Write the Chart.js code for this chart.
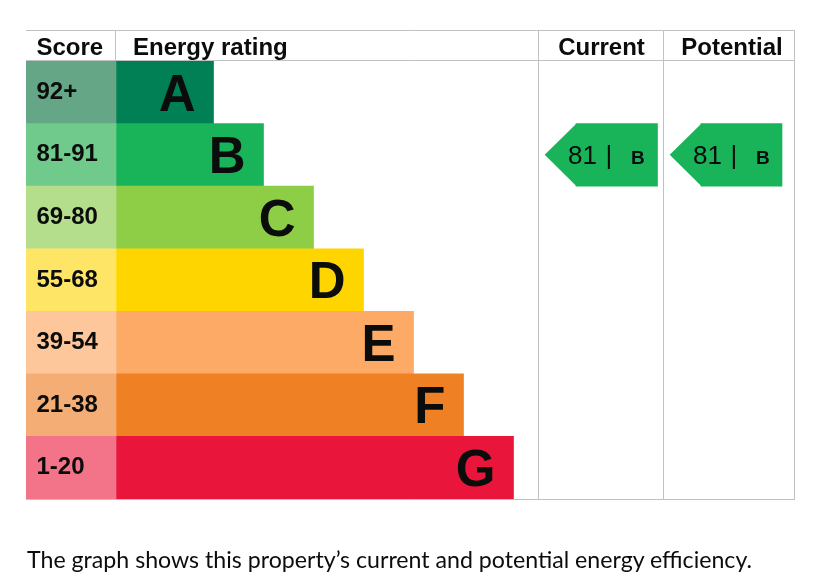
<!DOCTYPE html>
<html><head><meta charset="utf-8">
<script src="https://cdn.jsdelivr.net/npm/chart.js@4.4.1/dist/chart.umd.min.js"></script>
<style>
html,body{margin:0;padding:0;background:#fff;}
#wrap{position:relative;width:823px;height:586px;overflow:hidden;}
canvas{position:absolute;left:0;top:0;}
#note{position:absolute;left:27px;top:548px;margin:0;font-family:Lato,"Noto Sans",sans-serif;font-size:23px;line-height:23px;color:#0b0c0c;white-space:nowrap;transform-origin:0 0;}
</style></head><body>
<div id="wrap"><canvas id="c" width="823" height="586"></canvas>
<p id="note">The graph shows this property’s current and potential energy efficiency.</p></div>
<script>
// ---- data ----
const bands = ['A','B','C','D','E','F','G'];
const scoreRanges = ['92+','81-91','69-80','55-68','39-54','21-38','1-20'];
const bandMinScore = [92,81,69,55,39,21,1];
const bandLength = [1.95,2.95,3.95,4.95,5.95,6.95,7.95];
const currentScore = 81;
const potentialScore = 81;
const headers = ['Score','Energy rating','Current','Potential'];

// ---- styles / layout ----
const bandColours = ['#008054','#19b459','#8dce46','#ffd500','#fcaa65','#ef8023','#e9153b'];
const scoreColours = ['#64a685','#70ca8b','#b5de8c','#ffe566','#fec79b','#f4ad74','#f37389'];
const GRID = '#bfc1c3';
const INK = '#0b0c0c';
// x-scale units: 1 unit = 50px
const X_MIN = -1.8, X_MAX = 13.58;
const CUR_COL = [8.44, 10.94], POT_COL = [10.94, 13.58];
const CUR_ARROW = [9.2, 10.83], POT_ARROW = [11.7, 13.32];

const bandIndex = s => bandMinScore.findIndex(m => s >= m);
const curIdx = bandIndex(currentScore);
const potIdx = bandIndex(potentialScore);

const epcPlugin = {
  id: 'epc',
  afterDatasetsDraw(chart) {
    const ctx = chart.ctx, ca = chart.chartArea;
    const xs = chart.scales.x, ys = chart.scales.y;
    const top = 31;
    ctx.save();
    // grid
    ctx.strokeStyle = GRID; ctx.lineWidth = 1;
    const hl = y => { ctx.beginPath(); ctx.moveTo(ca.left, y); ctx.lineTo(ca.right, y); ctx.stroke(); };
    const vl = (x, y0, y1) => { ctx.beginPath(); ctx.moveTo(x, y0); ctx.lineTo(x, y1); ctx.stroke(); };
    hl(top - 0.5); hl(ca.top - 0.5); hl(ca.bottom + 0.5);
    vl(Math.round(xs.getPixelForValue(0)) - 0.5, top - 1, ca.top);
    vl(Math.round(xs.getPixelForValue(CUR_COL[0])) + 0.5, top - 1, ca.bottom + 1);
    vl(Math.round(xs.getPixelForValue(POT_COL[0])) + 0.5, top - 1, ca.bottom + 1);
    vl(Math.round(xs.getPixelForValue(POT_COL[1])) - 0.5, top - 1, ca.bottom + 1);
    // headers
    ctx.fillStyle = INK;
    ctx.textBaseline = 'alphabetic';
    ctx.font = 'bold 24px "Liberation Sans", Arial, sans-serif';
    const hb = 54.7;
    ctx.textAlign = 'left';
    ctx.fillText(headers[0], ca.left + 10.5, hb);
    ctx.fillText(headers[1], xs.getPixelForValue(0) + 17, hb);
    ctx.textAlign = 'center';
    ctx.fillText(headers[2], (xs.getPixelForValue(CUR_COL[0]) + xs.getPixelForValue(CUR_COL[1])) / 2 + 1, hb);
    ctx.fillText(headers[3], (xs.getPixelForValue(POT_COL[0]) + xs.getPixelForValue(POT_COL[1])) / 2 + 3, hb);
    // score labels and letters
    const bars = chart.getDatasetMeta(1).data;
    bands.forEach((b, i) => {
      const yc = ys.getPixelForValue(i);
      ctx.fillStyle = INK;
      ctx.textAlign = 'left';
      ctx.font = 'bold 24px "Liberation Sans", Arial, sans-serif';
      ctx.fillText(scoreRanges[i], ca.left + 10.5, yc + 6.5);
      ctx.textAlign = 'right';
      ctx.font = 'bold 51px "Liberation Sans", Arial, sans-serif';
      ctx.fillText(b, bars[i].x - 18, yc + 18.3);
    });
    // arrows
    const drawArrow = (dsIndex, idx, score) => {
      const el = chart.getDatasetMeta(dsIndex).data[idx];
      const h = el.height, base = el.base, y = el.y;
      ctx.fillStyle = bandColours[idx];
      ctx.beginPath();
      ctx.moveTo(base + 0.5, y - h / 2);
      ctx.lineTo(base - h / 2, y);
      ctx.lineTo(base + 0.5, y + h / 2);
      ctx.closePath();
      ctx.fill();
      ctx.fillStyle = INK;
      ctx.textAlign = 'left';
      ctx.font = '26px "Liberation Sans", Arial, sans-serif';
      ctx.fillText(String(score), base - 8, y + 9);
      ctx.textAlign = 'center';
      ctx.fillText('|', base + 33, y + 9.5);
      ctx.textAlign = 'left';
      ctx.font = 'bold 19px "Liberation Sans", Arial, sans-serif';
      ctx.fillText(bands[idx], base + 55, y + 8.7);
    };
    drawArrow(2, curIdx, currentScore);
    drawArrow(3, potIdx, potentialScore);
    ctx.restore();
  }
};

const common = { grouped: false, barPercentage: 1, categoryPercentage: 1, borderWidth: 0 };

new Chart(document.getElementById('c'), {
  type: 'bar',
  data: {
    labels: bands,
    datasets: [
      Object.assign({ label: 'Score', data: bands.map(() => [X_MIN, 0]), backgroundColor: scoreColours }, common),
      Object.assign({ label: 'Energy rating', data: bandLength.map(v => [0, v]), backgroundColor: bandColours }, common),
      Object.assign({ label: 'Current', data: bands.map((b, i) => i === curIdx ? CUR_ARROW : null), backgroundColor: bandColours[curIdx] }, common),
      Object.assign({ label: 'Potential', data: bands.map((b, i) => i === potIdx ? POT_ARROW : null), backgroundColor: bandColours[potIdx] }, common)
    ]
  },
  options: {
    indexAxis: 'y',
    responsive: false,
    animation: false,
    devicePixelRatio: 1,
    layout: { padding: { left: 26, right: 28, top: 61, bottom: 87 } },
    scales: {
      x: { type: 'linear', min: X_MIN, max: X_MAX, display: false },
      y: { type: 'category', display: false }
    },
    plugins: { legend: { display: false }, tooltip: { enabled: false } }
  },
  plugins: [epcPlugin]
});

// fit footer note to its width in the reference
const note = document.getElementById('note');
const w = note.getBoundingClientRect().width;
if (w > 0) note.style.transform = 'scaleX(' + (725 / w) + ')';
</script>
</body></html>
